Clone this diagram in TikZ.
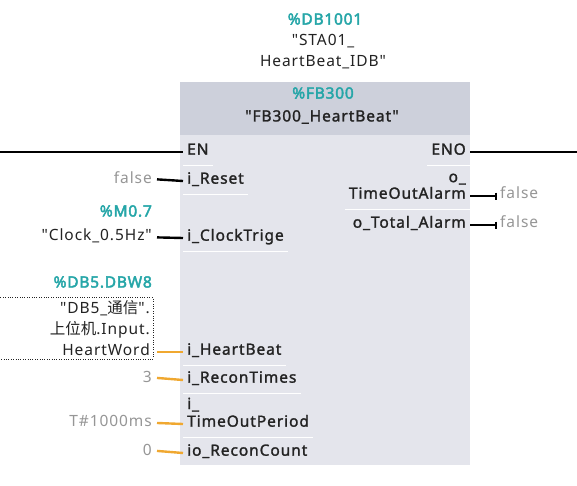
\documentclass[tikz,border=0pt]{standalone}
\usepackage{fontspec}
\setmainfont{Noto Sans}[Ligatures=TeXOff, LetterSpace=6]
\newfontfamily\pinfont{Noto Sans}[Ligatures=TeXOff, LetterSpace=6, FakeBold=1.6]
\newfontfamily\tagfont{Noto Sans}[Ligatures=TeXOff, LetterSpace=5, FakeBold=2.8]
\newfontfamily\cjk{Noto Sans CJK SC}
\usetikzlibrary{positioning,arrows.meta}

\definecolor{tagteal}{RGB}{38,166,168}
\definecolor{fbhead}{RGB}{205,208,219}
\definecolor{fbbody}{RGB}{228,229,236}
\definecolor{wireorange}{RGB}{240,168,48}
\definecolor{cstgray}{RGB}{150,150,150}
\definecolor{pintext}{RGB}{35,35,35}

\newcommand\fbsize{\fontsize{15.5}{18}\selectfont}
\newcommand\fbsizewide{\fontsize{15.5}{21}\selectfont}

\tikzset{
  pinin/.style={anchor=mid west, inner xsep=4pt, inner ysep=0pt, text=pintext, font=\fbsize\pinfont},
  pinout/.style={anchor=mid east, inner xsep=4pt, inner ysep=0pt, text=pintext, font=\fbsize\pinfont},
  cstin/.style={anchor=mid east, inner xsep=5pt, inner ysep=0pt, text=cstgray, font=\fbsize},
  cstout/.style={anchor=mid west, inner xsep=3pt, inner ysep=0pt, text=cstgray, font=\fbsize},
  vartext/.style={inner sep=0pt, text=pintext, font=\fbsize},
  tag/.style={inner sep=0pt, text=tagteal, font=\fbsize\tagfont},
  bwire/.style={line width=2.4pt, black},
  owire/.style={line width=2.4pt, wireorange},
  sepline/.style={white, line width=0.8pt},
}

\begin{document}
\begin{tikzpicture}[x=1pt, y=-1pt]
\useasboundingbox (0,0) rectangle (577,485);

% block body and header
\fill[fbbody] (180,82) rectangle (470,465);
\fill[fbhead] (180,82) rectangle (470,135);

% instance DB
\node[tag] (idbaddr) at (325,19) {\%DB1001};
\node[vartext, align=center, font=\fbsizewide] (idbname) at (323,52) {"STA01\_\\HeartBeat\_IDB"};
\node[tag] (fbaddr) at (323,93) {\%FB300};
\node[vartext, font=\fbsize\pinfont] (fbname) at (322,117) {"FB300\_HeartBeat"};

% input pins
\node[pinin] (en) at (183,152) {EN};
\node[pinin] (rst) at (183,181) {i\_Reset};
\node[pinin] (clk) at (183,238) {i\_ClockTrige};
\node[pinin] (hb) at (183,352) {i\_HeartBeat};
\node[pinin] (rt) at (183,380) {i\_ReconTimes};
\node[pinin] (tp) at (183,424) {TimeOutPeriod};
\node[vartext, font=\fbsize\pinfont, above=3pt of tp.north west, anchor=south west, xshift=4pt] (tpa) {i\_};
\node[pinin] (rc) at (183,453) {io\_ReconCount};

% output pins
\node[pinout] (eno) at (470,152) {ENO};
\node[pinout] (tmo) at (470,196) {TimeOutAlarm};
\node[vartext, font=\fbsize\pinfont, above=2pt of tmo.north east, anchor=south east, xshift=-4pt] (tmoa) {o\_};
\node[pinout] (tot) at (470,225) {o\_Total\_Alarm};

% row separators
\foreach \p in {en,rst,clk,hb,rt,tp}
  \draw[sepline] ([yshift=-13pt]\p.mid west) -- ([yshift=-13pt]\p.mid east);
\foreach \p in {eno,tmo}
  \draw[sepline] ([yshift=-13pt]\p.mid west) -- ([yshift=-13pt]\p.mid east);

% actual parameters
\coordinate (enL) at (0,152);
\coordinate (enoR) at (577,152);
\node[cstin] (rstv) at (157,181) {false};
\node[tag, anchor=east] (clkaddr) at (152,211) {\%M0.7};
\node[cstin, text=pintext] (clkv) at (157,238) {"Clock\_0.5Hz"};
\node[tag, anchor=east] (hbaddr) at (152,282) {\%DB5.DBW8};
\node[vartext, anchor=south east, align=right, text width=148pt, inner xsep=3pt, inner ysep=3pt,
      draw=pintext, dotted, font=\fbsizewide] (hbv) at (153,359)
      {"DB5\_{\cjk 通信}".\\{\cjk 上位机}.Input.\\HeartWord};
\node[cstin] (rtv) at (157,380) {3};
\node[cstin] (tpv) at (157,424) {T\#1000ms};
\node[cstin] (rcv) at (157,453) {0};
\node[cstout] (tmov) at (497,196) {false};
\node[cstout] (totv) at (497,225) {false};

% connectors
\draw[bwire] (enL) -- (en.mid west);
\draw[bwire] (eno.mid east) -- (enoR);
\draw[bwire] (rstv) -- (rst.mid west);
\draw[bwire] (clkv) -- (clk.mid west);
\draw[owire, shorten <=4pt] (hbv.east |- hb.mid west) -- (hb.mid west);
\draw[owire] (rtv) -- (rt.mid west);
\draw[owire] (tpv) -- (tp.mid west);
\draw[owire] (rcv) -- (rc.mid west);
\draw[bwire, -{Bar[width=7pt,line width=1.8pt]}] (tmo.mid east) -- (tmov.mid west);
\draw[bwire, -{Bar[width=7pt,line width=1.8pt]}] (tot.mid east) -- (totv.mid west);
\end{tikzpicture}
\end{document}
